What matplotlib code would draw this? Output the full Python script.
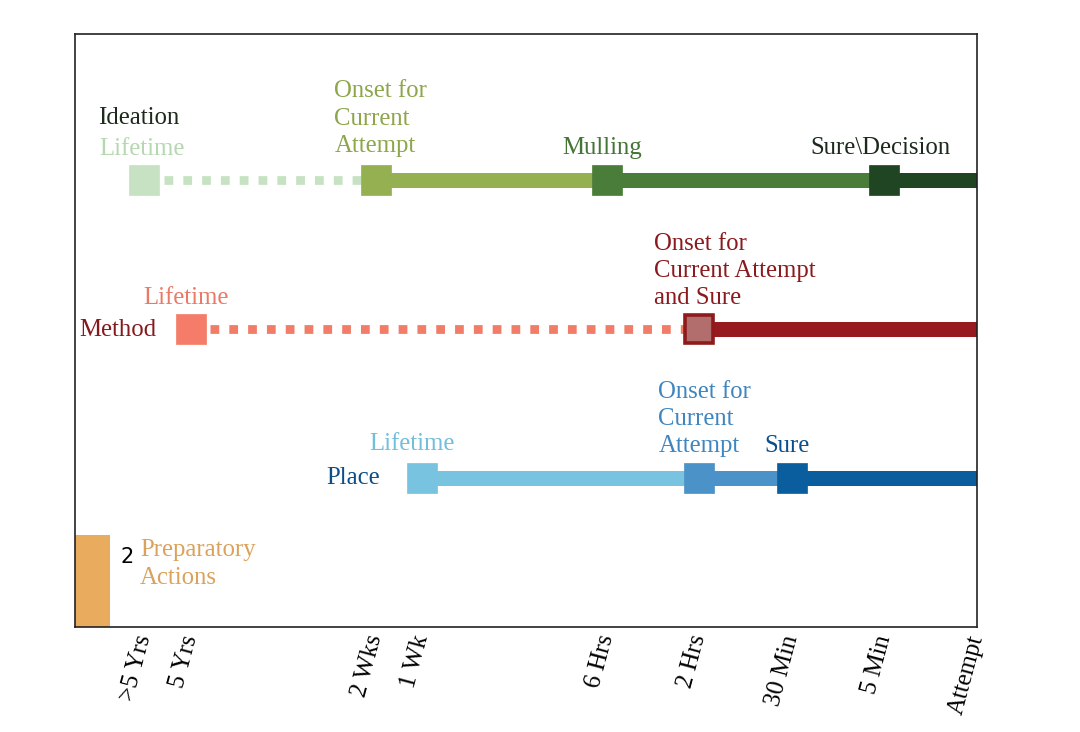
import matplotlib.pyplot as plt

# time points (ordinal positions on the x axis)
tick_pos = [0, 1, 5, 6, 10, 12, 14, 16, 18]
tick_labels = ['>5 Yrs', '5 Yrs', '2 Wks', '1 Wk', '6 Hrs', '2 Hrs', '30 Min', '5 Min', 'Attempt']

# Ideation row
ideation_x = [0, 5, 10, 16, 18]
ideation_seg_colors = ['#c6e2c2', '#95b050', '#4b7d3a', '#1f4522']
ideation_seg_styles = ['dotted', 'solid', 'solid', 'solid']
ideation_marker_colors = ['#c6e2c2', '#95b050', '#4b7d3a', '#1f4522']

# Method row
method_x = [1, 12, 18]
method_seg_colors = ['#f17c68', '#961a1e']
method_seg_styles = ['dotted', 'solid']
method_marker_colors = ['#f47c68', '#b16e6d']
method_marker_edges = ['#f47c68', '#8e1a1c']

# Place row
place_x = [6, 12, 14, 18]
place_seg_colors = ['#78c3e0', '#4a92c8', '#0a5e9e']
place_seg_styles = ['solid', 'solid', 'solid']
place_marker_colors = ['#78c3e0', '#4a92c8', '#0a5e9e']

# preparatory actions bar
prep_count = 2

serif = 'Liberation Serif'
fs = 17.8

fig, ax = plt.subplots(figsize=(10.8, 7.32), dpi=100)
fig.subplots_adjust(left=0.0694, right=0.9046, top=0.9536, bottom=0.1434)


def draw_row(y, xs, seg_colors, seg_styles, mcolors, medges=None):
    for i in range(len(xs) - 1):
        if seg_styles[i] == 'dotted':
            # small gap after the marker before the first dot
            ax.plot([xs[i] + 0.43, xs[i + 1]], [y, y], color=seg_colors[i], lw=6.3,
                    linestyle=(0, (1, 1.15)), solid_capstyle='butt',
                    dash_capstyle='butt', zorder=2)
        else:
            ax.plot([xs[i], xs[i + 1]], [y, y], color=seg_colors[i], lw=10.8,
                    solid_capstyle='butt', zorder=2)
    for i in range(len(mcolors)):
        ec = medges[i] if medges else mcolors[i]
        edged = medges is not None and medges[i] != mcolors[i]
        ax.plot(xs[i], y, marker='s', ms=20 if edged else 22, color=mcolors[i],
                mec=ec, mew=2.6 if edged else 0.5, zorder=3, linestyle='none')


draw_row(3, ideation_x, ideation_seg_colors, ideation_seg_styles, ideation_marker_colors)
draw_row(2, method_x, method_seg_colors, method_seg_styles, method_marker_colors, method_marker_edges)
draw_row(1, place_x, place_seg_colors, place_seg_styles, place_marker_colors)

ax.bar(-1.5, 0.62, width=0.76, align='edge', color='#e9ac5e', zorder=2)


# labels
def lab(x, y, s, c):
    ax.text(x, y, s, color=c, fontsize=fs, family=serif, va='center', ha='left',
            multialignment='left', linespacing=1.32)


lab(-0.99, 3.415, 'Ideation', '#1c2a1c')
lab(-0.97, 3.21, 'Lifetime', '#b5d8b0')
lab(4.11, 3.41, 'Onset for\nCurrent\nAttempt', '#8ca64a')
lab(9.04, 3.215, 'Mulling', '#447536')
lab(14.4, 3.215, 'Sure\\Decision', '#1c2a1c')

lab(-1.41, 1.993, 'Method', '#851a1e')
lab(-0.02, 2.208, 'Lifetime', '#ea7a66')
lab(11.02, 2.389, 'Onset for\nCurrent Attempt\nand Sure', '#8a1a1e')

lab(3.93, 1.0, 'Place', '#0d4e88')
lab(4.86, 1.228, 'Lifetime', '#72bedd')
lab(11.11, 1.396, 'Onset for\nCurrent\nAttempt', '#3f86c0')
lab(13.4, 1.215, 'Sure', '#0a4f8c')

ax.text(-0.52, 0.47, str(prep_count), color='black', fontsize=15, family='DejaVu Sans',
        va='center', ha='left')
lab(-0.09, 0.423, 'Preparatory\nActions', '#dba25c')

ax.set_xlim(-1.5, 18)
ax.set_ylim(0, 3.98)
ax.set_yticks([])
ax.set_xticks(tick_pos)
ax.set_xticklabels(tick_labels, rotation=75, ha='right', va='center',
                   rotation_mode='anchor', fontsize=fs, family=serif, fontstyle='normal')
ax.tick_params(axis='x', length=0, pad=6)
for sp in ax.spines.values():
    sp.set_color('#222222')
    sp.set_linewidth(1.2)

fig.savefig('out.png', dpi=100)
